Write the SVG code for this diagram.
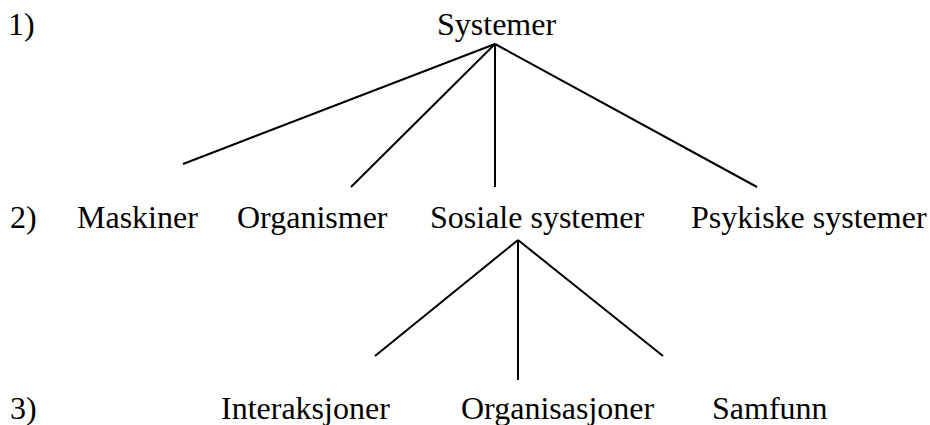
<svg xmlns="http://www.w3.org/2000/svg" width="930" height="425" viewBox="0 0 930 425">
<style>
text{font-family:"Liberation Serif","Times New Roman",serif;font-size:32px;fill:#000}
.c line{stroke:#000;stroke-width:2}
</style>
<rect width="930" height="425" fill="#fff"/>
<g id="levels">
<text x="8" y="35">1)</text>
<text x="10" y="228">2)</text>
<text x="10" y="419">3)</text>
</g>
<g id="n-systemer"><text x="437" y="35">Systemer</text></g>
<g id="n-maskiner"><text x="77" y="228">Maskiner</text></g>
<g id="n-organismer"><text x="237" y="228">Organismer</text></g>
<g id="n-sosiale"><text x="430" y="228">Sosiale systemer</text></g>
<g id="n-psykiske"><text x="691" y="228">Psykiske systemer</text></g>
<g id="n-interaksjoner"><text x="221" y="419">Interaksjoner</text></g>
<g id="n-organisasjoner"><text x="461" y="419">Organisasjoner</text></g>
<g id="n-samfunn"><text x="712" y="419">Samfunn</text></g>
<g id="connectors" class="c">
<line x1="495" y1="44" x2="183" y2="164"/>
<line x1="495" y1="44" x2="351" y2="187"/>
<line x1="495" y1="44" x2="495" y2="187"/>
<line x1="495" y1="44" x2="757" y2="187"/>
<line x1="518" y1="240" x2="375" y2="356"/>
<line x1="518" y1="240" x2="518" y2="380"/>
<line x1="518" y1="240" x2="663" y2="356"/>
</g>
</svg>
